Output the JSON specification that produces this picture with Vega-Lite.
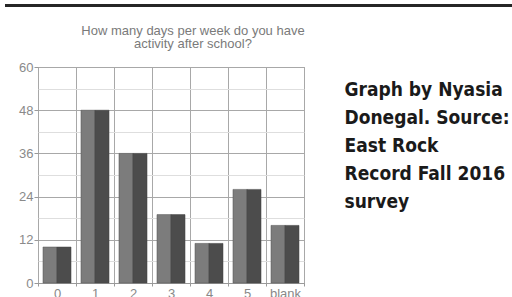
{
  "$schema": "https://vega.github.io/schema/vega-lite/v6.json",
  "padding": {"left": 4, "top": 4, "right": 0, "bottom": 0},
  "background": "white",
  "config": {"view": {"stroke": null}, "font": "Liberation Sans"},
  "spacing": 17,
  "vconcat": [
    {
      "width": 475,
      "height": 3,
      "data": {"values": [{}]},
      "mark": {"type": "rect", "color": "#262626"},
      "encoding": {
        "x": {"datum": 0, "type": "quantitative", "scale": {"domain": [0, 1], "range": [-33, 480]}, "axis": null},
        "x2": {"datum": 1}
      }
    },
    {
      "spacing": 38,
      "hconcat": [
        {
          "width": 266,
          "height": 216,
          "view": {"stroke": "#9a9a9a"},
          "title": {
            "text": ["How many days per week do you have", "activity after school?"],
            "fontSize": 13,
            "fontWeight": "normal",
            "font": "Liberation Sans",
            "color": "#7a7a7a",
            "dx": 22,
            "offset": 10,
            "lineHeight": 13.5
          },
          "data": {
            "values": [
              {"days": "0", "count": 10},
              {"days": "1", "count": 48},
              {"days": "2", "count": 36},
              {"days": "3", "count": 19},
              {"days": "4", "count": 11},
              {"days": "5", "count": 26},
              {"days": "blank", "count": 16}
            ]
          },
          "encoding": {
            "x": {
              "field": "days",
              "type": "ordinal",
              "sort": null,
              "scale": {"paddingInner": 0, "paddingOuter": 0},
              "axis": {
                "title": null,
                "labelAngle": 0,
                "labelFontSize": 13,
                "labelColor": "#888",
                "labelPadding": 1,
                "tickBand": "extent",
                "tickSize": 3,
                "tickColor": "#999",
                "domainColor": "#999",
                "grid": true,
                "gridColor": "#a8a8a8",
                "gridOpacity": 1
              }
            },
            "y": {
              "field": "count",
              "type": "quantitative",
              "scale": {"domain": [0, 60], "nice": false},
              "axis": {
                "title": null,
                "values": [0, 6, 12, 18, 24, 30, 36, 42, 48, 54, 60],
                "labelExpr": "datum.value % 12 === 0 ? datum.label : ''",
                "labelFontSize": 13,
                "labelColor": "#8a8a8a",
                "labelPadding": 1,
                "tickSize": 4,
                "tickColor": {"condition": {"test": "datum.value % 12 === 0", "value": "#999"}, "value": "transparent"},
                "domain": false,
                "minExtent": 33,
                "maxExtent": 33,
                "grid": true,
                "gridColor": {"condition": {"test": "datum.value % 12 === 0", "value": "#a8a8a8"}, "value": "#dedede"},
                "gridOpacity": 1
              }
            }
          },
          "layer": [
            {
              "mark": {"type": "bar", "width": {"band": 0.37}, "xOffset": -7, "color": "#7c7c7c", "stroke": "#555", "strokeWidth": 0.5}
            },
            {
              "mark": {"type": "bar", "width": {"band": 0.37}, "xOffset": 7, "color": "#4c4c4c", "stroke": "#444", "strokeWidth": 0.5}
            }
          ]
        },
        {
          "width": 1,
          "height": 46,
          "data": {"values": [{}]},
          "mark": {
            "type": "text",
            "text": ["Graph by Nyasia", "Donegal. Source:", "East Rock", "Record Fall 2016", "survey"],
            "align": "left",
            "baseline": "middle",
            "font": "'DejaVu Sans Condensed', 'Liberation Sans Narrow', 'Roboto Condensed', Roboto, sans-serif",
            "fontWeight": "bold",
            "fontSize": 19,
            "lineHeight": 28,
            "color": "#1a1a1a"
          },
          "encoding": {}
        }
      ]
    }
  ]
}
